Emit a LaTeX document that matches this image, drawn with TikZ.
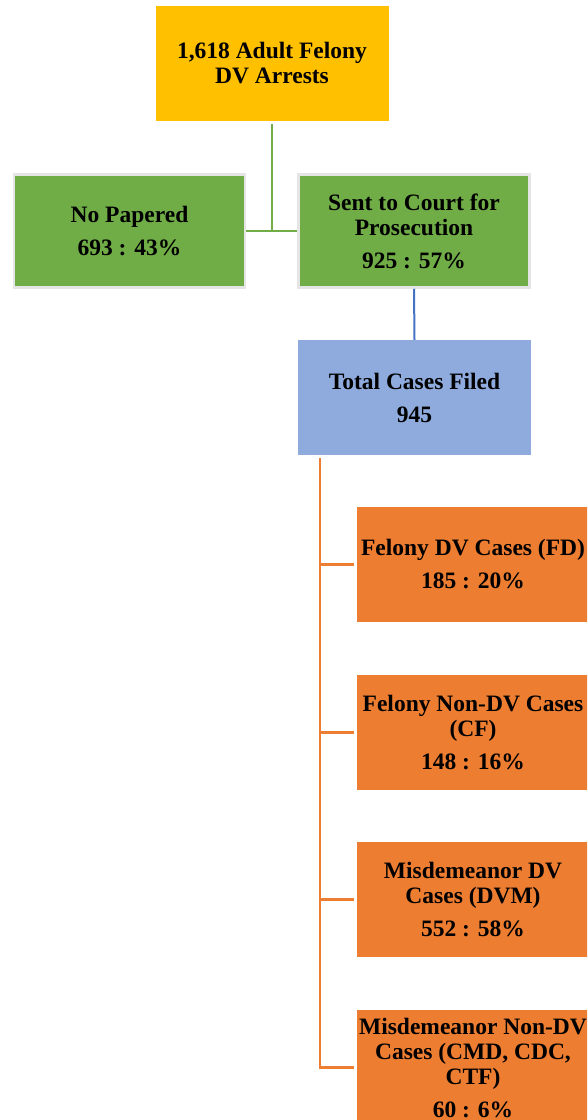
\documentclass[tikz,border=0pt]{standalone}
\usepackage{fontspec}
\setmainfont{Liberation Serif}
\definecolor{arrestgold}{RGB}{255, 192, 0}
\definecolor{papergreen}{RGB}{112, 173, 71}
\definecolor{filedblue}{RGB}{143, 170, 220}
\definecolor{linkblue}{RGB}{68, 114, 196}
\definecolor{caseorange}{RGB}{237, 125, 49}
\usetikzlibrary{positioning, calc}

\begin{document}
\begin{tikzpicture}[x=1pt, y=-1pt,
  box/.style={minimum width=233pt, minimum height=115pt, inner xsep=1pt, inner ysep=2pt, align=center, font=\fontsize{23.5}{25}\selectfont\bfseries},
  arrests/.style={box, fill=arrestgold},
  split/.style={box, fill=papergreen, draw=black!10, line width=2.5pt, minimum width=231pt, minimum height=113pt},
  filed/.style={box, fill=filedblue},
  casebox/.style={box, fill=caseorange},
  link/.style={line width=2.5pt}
]
  \useasboundingbox (0, 0) rectangle (587, 1120);
  \fill[white] (0, 0) rectangle (587, 1120);
  \clip (0, 0) rectangle (587, 1120);

  \node[arrests] (arrests) at (272, 63.5) {1,618 Adult Felony\\DV Arrests};

  \node[split] (nopaper) at (129.5, 231) {No Papered\\[8pt]693 : 43\%};
  \node[split] (court) at (414, 231) {Sent to Court for\\Prosecution\\[8pt]925 : 57\%};

  \draw[link, draw=papergreen, shorten <=3pt] (arrests.south) -- (arrests.south |- nopaper.east);
  \draw[link, draw=papergreen] (nopaper.east) -- (court.west);

  \node[filed] (filed) at (414.5, 397.5) {Total Cases Filed\\[8pt]945};
  \draw[link, line width=2pt, draw=linkblue] (court.south) -- (filed.north);

  % Filed cases by type
  \node[casebox] (fd) at (473, 564.5) {Felony DV Cases (FD)\\[8pt]185 : 20\%};
  \node[casebox] (cf) at (473, 732.5) {Felony Non-DV Cases\\(CF)\\[8pt]148 : 16\%};
  \node[casebox] (dvm) at (473, 899.5) {Misdemeanor DV\\Cases (DVM)\\[8pt]552 : 58\%};
  \node[casebox] (other) at (473, 1067.5) {Misdemeanor Non-DV\\Cases (CMD, CDC,\\CTF)\\[8pt]60 : 6\%};

  \coordinate (trunk) at ([xshift=22pt, yshift=-3pt]filed.south west);
  \draw[link, draw=caseorange, shorten >=2pt] (trunk) |- (other.west);
  \foreach \c in {fd, cf, dvm}
    \draw[link, draw=caseorange, shorten >=2pt] (trunk |- \c.west) -- (\c.west);
\end{tikzpicture}
\end{document}
